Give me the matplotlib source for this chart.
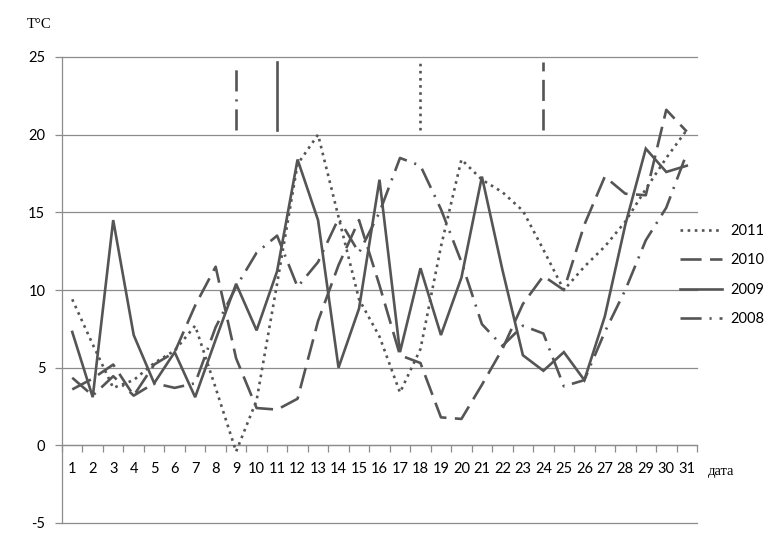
import matplotlib
matplotlib.use('Agg')
import matplotlib.pyplot as plt

# ---------------- data ----------------
days = list(range(1, 32))
t2011 = [9.4, 6.5, 3.7, 4.2, 5.3, 6.1, 7.7, 3.7, -0.4, 2.9, 10.4, 18.1, 20.0, 14.7, 9.4, 7.0,
         3.4, 6.2, 12.8, 18.4, 17.1, 16.3, 15.1, 12.6, 10.0, 11.5, 12.8, 14.4, 16.5, 18.5, 20.3]
t2010 = [3.6, 4.3, 5.2, 3.2, 5.2, 6.0, 9.0, 11.5, 5.6, 2.4, 2.3, 3.0, 8.0, 11.6, 14.5, 10.3,
         5.8, 5.3, 1.8, 1.7, 3.9, 6.2, 9.1, 10.9, 10.0, 14.2, 17.3, 16.2, 16.1, 21.6, 20.2]
t2009 = [7.3, 3.1, 14.5, 7.1, 4.0, 6.0, 3.1, 6.8, 10.4, 7.4, 11.2, 18.4, 14.5, 5.0, 8.8, 17.1,
         6.0, 11.4, 7.1, 10.8, 17.3, 11.3, 5.8, 4.8, 6.0, 4.2, 8.3, 14.2, 19.1, 17.6, 18.0]
t2008 = [4.35, 3.2, 4.45, 3.2, 4.0, 3.7, 4.0, 7.6, 10.2, 12.4, 13.5, 10.2, 11.8, 14.6, 12.4, 15.0,
         18.5, 18.0, 15.2, 11.8, 7.8, 6.4, 7.7, 7.2, 3.8, 4.2, 7.3, 10.0, 13.2, 15.3, 18.8]
years = ['2011', '2010', '2009', '2008']
series = [t2011, t2010, t2009, t2008]

marker_days = [9, 11, 18, 24]
marker_years = ['2008', '2009', '2011', '2010']
marker_range = [20.3, 24.7]

yticks = [-5, 0, 5, 10, 15, 20, 25]

# ---------------- style ----------------
line_color = '#555555'
grid_color = '#8c8c8c'
styles = {
    '2011': (0, (1.0, 1.7)),
    '2010': (0, (8, 3.2)),
    '2009': '-',
    '2008': (0, (8, 3, 0.8, 3)),
}
LW = 1.9
num_font = 'Lato'
serif_font = 'Liberation Serif'

fig = plt.figure(figsize=(7.75, 5.53), dpi=100)
ax = fig.add_axes([62 / 775, 1 - 523 / 553, (697 - 62) / 775, (523 - 57) / 553])

handles = []
for yr, vals in zip(years, series):
    ln, = ax.plot(days, vals, color=line_color, lw=LW, linestyle=styles[yr],
                  dash_capstyle='butt', solid_joinstyle='miter', zorder=3)
    handles.append(ln)

# vertical marks at the top
for d, yr in zip(marker_days, marker_years):
    ax.plot([d, d], marker_range, color=line_color, lw=LW, linestyle=styles[yr],
            dash_capstyle='butt', zorder=3)

ax.set_xlim(0.5, 31.5)
ax.set_ylim(-5, 25)

# y axis
ax.set_yticks(yticks)
ax.set_yticklabels([str(v) for v in yticks], fontfamily=num_font, fontsize=10.5)
ax.tick_params(axis='y', length=5, width=0.9, color=grid_color, pad=7)
for v in yticks:
    ax.axhline(v, color=grid_color, lw=0.9, zorder=1, clip_on=False)

# x axis (category axis through 0)
ax.spines['bottom'].set_position(('data', 0))
ax.set_xticks([d - 0.5 for d in days] + [days[-1] + 0.5])
ax.set_xticklabels([])
ax.set_xticks(days, minor=True)
ax.set_xticklabels([str(d) for d in days], minor=True, fontfamily=num_font, fontsize=10.5)
ax.tick_params(axis='x', which='major', length=5, width=0.9, color=grid_color, direction='out')
ax.tick_params(axis='x', which='minor', length=0, pad=12)

for s in ['top', 'right']:
    ax.spines[s].set_visible(False)
for s in ['left', 'bottom']:
    ax.spines[s].set_color(grid_color)
    ax.spines[s].set_linewidth(0.9)

# labels
fig.text(27 / 775, 1 - 25 / 553, 'T°C', fontfamily=serif_font, fontsize=10.5,
         ha='left', va='center')
fig.text(708 / 775, 1 - 471 / 553, 'дата', fontfamily=serif_font, fontsize=10.5,
         ha='left', va='center')

leg = ax.legend(handles, years, loc='upper left',
                bbox_to_anchor=(680 / 775, 1 - 224 / 553), bbox_transform=fig.transFigure,
                frameon=False, handlelength=2.9, handletextpad=0.55, labelspacing=1.05,
                borderpad=0, borderaxespad=0, prop={'family': num_font, 'size': 10.5})

fig.savefig('out.png', dpi=100)
